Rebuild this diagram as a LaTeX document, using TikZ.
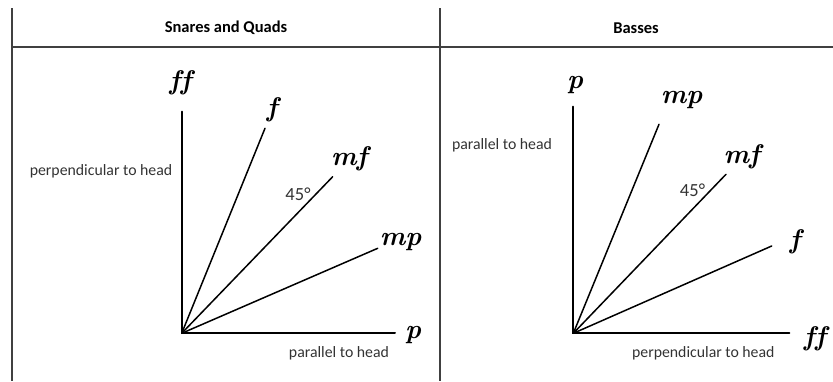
\documentclass[tikz,border=0pt]{standalone}
\usepackage{fontspec}
\setmainfont{Carlito}
\newfontfamily\dynfont{Latin Modern Roman}
\begin{document}
\begin{tikzpicture}[x=1pt,y=-1pt,
  grid/.style={line width=1.5pt,draw=black!75},
  axis/.style={line width=2pt,line cap=round},
  ray/.style={line width=1.5pt,line cap=round},
  dyn/.style={font=\dynfont\bfseries\itshape\fontsize{27}{27}\selectfont,inner sep=0pt},
  lab/.style={font=\fontsize{15.8}{18}\selectfont,text=black!80,inner sep=0pt},
  deg/.style={font=\fontsize{18.5}{20}\selectfont,text=black!80,inner sep=0pt},
  head/.style={font=\bfseries\fontsize{16.5}{19}\selectfont,inner sep=0pt}]
\useasboundingbox (0,0) rectangle (833,381);
% table
\draw[grid] (12,8) -- (12,381);
\draw[grid] (440,8) -- (440,381);
\draw[grid] (12,47) -- (833,47);
\node[head] (h1) at (226,28) {Snares and Quads};
\node[head] (h2) at (636,28) {Basses};
% left diagram
\coordinate (o1) at (181.7,333.3);
\coordinate (v1) at (181.7,111.7);
\coordinate (x1) at (395,333.3);
\coordinate (r1a) at (265,128.3);
\coordinate (r1b) at (332.7,176.7);
\coordinate (r1c) at (377.7,248.3);
\draw[axis] (v1) -- (o1) -- (x1);
\draw[ray] (o1) -- (r1a);
\draw[ray] (o1) -- (r1b);
\draw[ray] (o1) -- (r1c);
\node[dyn] (ff1) at (180.5,83) {f\kern0.5pt f};
\node[dyn] (f1) at (272,110) {f};
\node[dyn] (mf1) at (349.3,158.3) {mf};
\node[dyn] (mp1) at (400.7,241.7) {mp};
\node[dyn] (p1) at (413,335) {p};
\node[deg] (a1) at (298,194) {45°};
\node[lab] (perp1) at (101,171) {perpendicular to head};
\node[lab] (par1) at (339,353) {parallel to head};
% right diagram
\coordinate (o2) at (573.3,333.3);
\coordinate (v2) at (573.3,106.7);
\coordinate (x2) at (789.3,333.3);
\coordinate (r2a) at (659,124.3);
\coordinate (r2b) at (726,174.3);
\coordinate (r2c) at (771.7,246);
\draw[axis] (v2) -- (o2) -- (x2);
\draw[ray] (o2) -- (r2a);
\draw[ray] (o2) -- (r2b);
\draw[ray] (o2) -- (r2c);
\node[dyn] (p2) at (575,85) {p};
\node[dyn] (mp2) at (681.7,100) {mp};
\node[dyn] (mf2) at (741.7,156.7) {mf};
\node[dyn] (f2) at (795,241.7) {f};
\node[dyn] (ff2) at (815,338.3) {f\kern0.5pt f};
\node[deg] (a2) at (692.5,190.5) {45°};
\node[lab] (par2) at (502,145) {parallel to head};
\node[lab] (perp2) at (703.3,353.3) {perpendicular to head};
\end{tikzpicture}
\end{document}
